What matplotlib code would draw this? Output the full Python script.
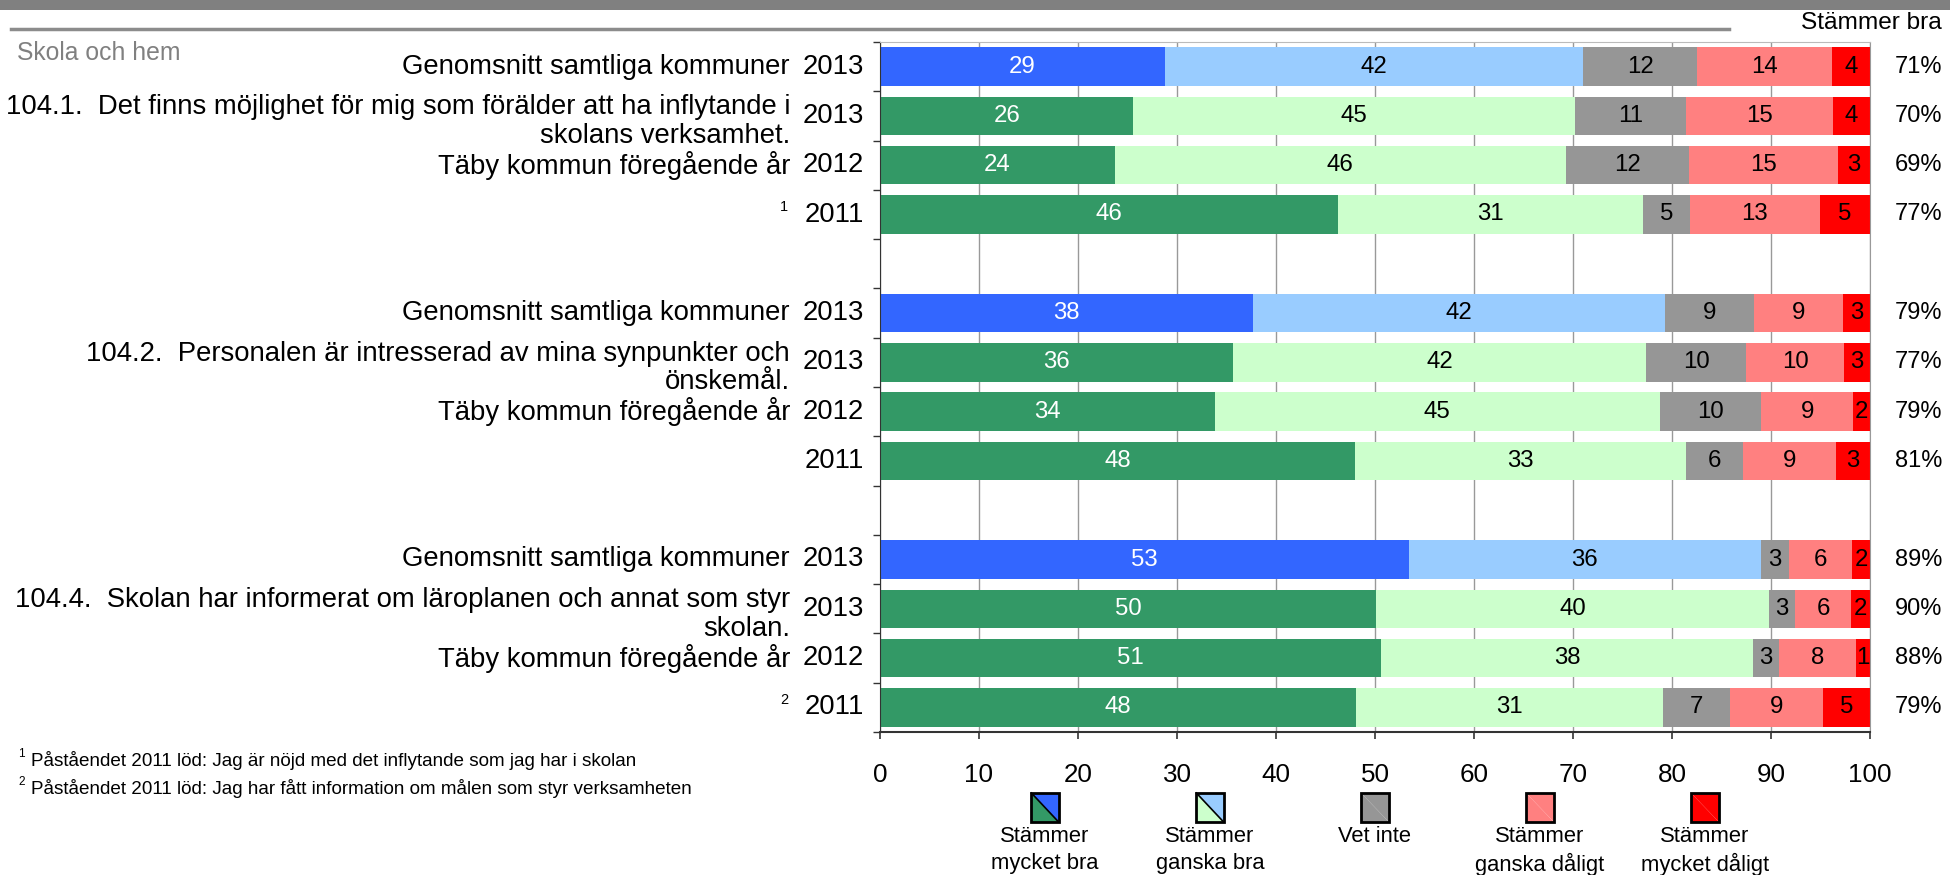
import matplotlib.pyplot as plt
import matplotlib.transforms as mtransforms
from matplotlib.patches import Rectangle, Polygon
from matplotlib.lines import Line2D

plt.rcParams['font.family'] = ['Liberation Sans', 'DejaVu Sans']

# --- data (percent of answers) ---
questions = [
    ('104.1.  Det finns möjlighet för mig som förälder att ha inflytande i', 'skolans verksamhet.'),
    ('104.2.  Personalen är intresserad av mina synpunkter och', 'önskemål.'),
    ('104.4.  Skolan har informerat om läroplanen och annat som styr', 'skolan.'),
]
row_names = ['Genomsnitt samtliga kommuner', '', 'Täby kommun föregående år', '']
years = ['2013', '2013', '2012', '2011']
footnote_marks = ['1', '', '2']

mycket_bra = [28.8, 25.6, 23.7, 46.3, 37.7, 35.7, 33.8, 48.0, 53.4, 50.1, 50.6, 48.1]
ganska_bra = [42.2, 44.6, 45.6, 30.8, 41.6, 41.7, 45.0, 33.4, 35.6, 39.7, 37.6, 31.0]
vet_inte = [11.55, 11.2, 12.4, 4.7, 9.0, 10.1, 10.2, 5.8, 2.8, 2.6, 2.6, 6.8]
ganska_daligt = [13.6, 14.9, 15.1, 13.1, 9.0, 9.9, 9.3, 9.4, 6.4, 5.7, 7.8, 9.4]
mycket_daligt = [3.85, 3.7, 3.2, 5.1, 2.7, 2.6, 1.7, 3.4, 1.8, 1.9, 1.4, 4.7]
stammer_bra = [71, 70, 69, 77, 79, 77, 79, 81, 89, 90, 88, 79]

legend_labels = ['Stämmer\nmycket bra', 'Stämmer\nganska bra', 'Vet inte',
                 'Stämmer\nganska dåligt', 'Stämmer\nmycket dåligt']
footnotes = ['Påståendet 2011 löd: Jag är nöjd med det inflytande som jag har i skolan',
             'Påståendet 2011 löd: Jag har fått information om målen som styr verksamheten']

# colours: (average rows, Täby rows)
c_mb = ('#3366FF', '#339966')
c_gb = ('#99CCFF', '#CCFFCC')
c_vi = '#969696'
c_gd = '#FF8080'
c_md = '#FF0000'

W, H = 1950, 875
fig = plt.figure(figsize=(W / 100, H / 100), dpi=100)
ax = fig.add_axes([880 / W, 1 - 732 / H, 990 / W, 690 / H])

rows_per_group = 4
positions = []
for g in range(len(questions)):
    for r in range(rows_per_group):
        positions.append(g * (rows_per_group + 1) + r + 0.5)

segments = [mycket_bra, ganska_bra, vet_inte, ganska_daligt, mycket_daligt]
for i, y in enumerate(positions):
    avg_row = (i % rows_per_group == 0)
    k = 0 if avg_row else 1
    cols = [c_mb[k], c_gb[k], c_vi, c_gd, c_md]
    txtcols = ['white', 'black', 'black', 'black', 'black']
    left = 0
    for seg, col, tc in zip(segments, cols, txtcols):
        v = seg[i]
        ax.barh(y, v, left=left, height=0.78, color=col, zorder=2)
        ax.text(left + v / 2, y, str(int(v + 0.5)), ha='center', va='center',
                fontsize=17.3, color=tc, zorder=3)
        left += v

ax.set_xlim(0, 100)
ax.set_ylim(len(questions) * (rows_per_group + 1) - 1, 0)
ax.set_xticks(range(0, 101, 10))
ax.set_yticks(range(0, 15))
ax.set_yticklabels([])
ax.tick_params(axis='x', labelsize=18.7, length=5, width=1.2, pad=17, color='#333333')
ax.tick_params(axis='y', length=5, width=1, color='#333333')
ax.grid(axis='x', color='#999999', linewidth=1, zorder=0)
ax.set_axisbelow(True)
ax.spines['left'].set_color('#333333')
ax.spines['bottom'].set_color('#333333')
ax.spines['bottom'].set_linewidth(1.5)
ax.spines['right'].set_color('#999999')
ax.spines['top'].set_color('#bbbbbb')

# row labels left of the axes
trans = mtransforms.blended_transform_factory(fig.transFigure, ax.transData)
for g, (line1, line2) in enumerate(questions):
    base = g * rows_per_group
    for r in range(rows_per_group):
        y = positions[base + r]
        fig.text(864 / W, y, years[r], ha='right', va='center', fontsize=19.8, transform=trans)
        if row_names[r]:
            fig.text(790 / W, y, row_names[r], ha='right', va='center', fontsize=19.8, transform=trans)
    yq = positions[base + 1]
    fig.text(790 / W, yq - 0.03, line1, ha='right', va='baseline', fontsize=19.8, transform=trans)
    fig.text(790 / W, yq + 0.545, line2, ha='right', va='baseline', fontsize=19.8, transform=trans)
    if footnote_marks[g]:
        fig.text(788 / W, positions[base + 3] - 0.15, footnote_marks[g], ha='right', va='center',
                 fontsize=10.5, transform=trans)

# "Stämmer bra" column on the right
fig.text(1942 / W, 1 - 23 / H, 'Stämmer bra', ha='right', va='center', fontsize=17.6)
for i, y in enumerate(positions):
    fig.text(1942 / W, y, f'{stammer_bra[i]}%', ha='right', va='center', fontsize=17, transform=trans)

# header decoration
fig.add_artist(Rectangle((0, 1 - 10 / H), 1, 10 / H, transform=fig.transFigure,
                         color='#808080', lw=0))
fig.add_artist(Line2D([11 / W, 1729 / W], [1 - 29 / H, 1 - 29 / H], transform=fig.transFigure,
                      color='#8c8c8c', lw=2.5))
fig.text(17 / W, 1 - 53 / H, 'Skola och hem', ha='left', va='center', fontsize=17.8, color='#808080')

# footnotes
for n, (fy, note) in enumerate(zip([760, 788], footnotes)):
    fig.text(18 / W, 1 - (fy - 6) / H, str(n + 1), ha='left', va='center', fontsize=8.5)
    fig.text(31 / W, 1 - fy / H, note, ha='left', va='center', fontsize=13.6)

# legend under the axes (y in pixels from top of figure)
lax = fig.add_axes([880 / W, 0, 990 / W, 90 / H])
lax.set_xlim(0, 100)
lax.set_ylim(875, 785)
lax.axis('off')
fills = [(c_mb[1], c_mb[0]), (c_gb[1], c_gb[0]), (c_vi, c_vi), (c_gd, c_gd), (c_md, c_md)]
bw, y0, y1 = 2.75, 793, 822
for k, (lab, (lo, hi)) in enumerate(zip(legend_labels, fills)):
    cx = 100 / 6 * (k + 1)
    x0, x1 = cx - bw / 2, cx + bw / 2
    lax.add_patch(Polygon([(x0, y0), (x0, y1), (x1, y1)], closed=True, color=lo, lw=0))
    lax.add_patch(Polygon([(x0, y0), (x1, y0), (x1, y1)], closed=True, color=hi, lw=0))
    if lo != hi:
        lax.plot([x0, x1], [y0, y1], color='black', lw=1.2)
    lax.add_patch(Rectangle((x0, y0), bw, y1 - y0, fill=False, ec='black', lw=2))
    lax.text(cx, 826, lab, ha='center', va='top', fontsize=15.8, linespacing=1.35)

fig.savefig('out.png', dpi=100)
